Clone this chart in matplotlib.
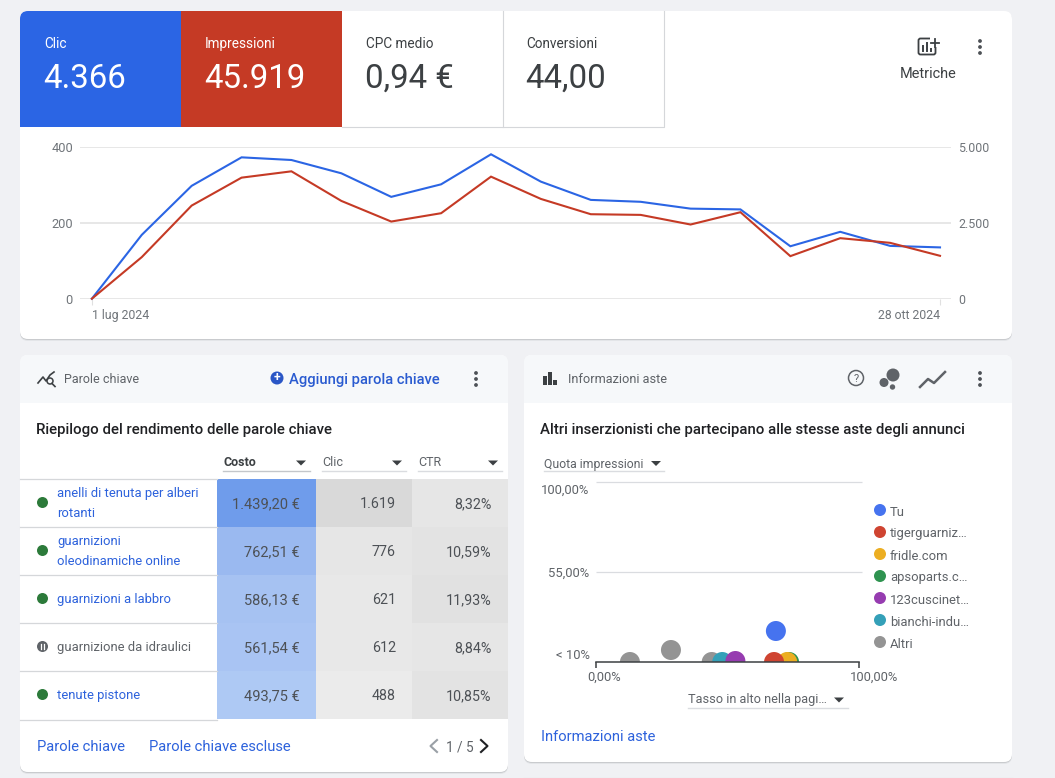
#!/usr/bin/env python3
"""Google Ads overview: clicks/impressions line chart, keyword table, auction insights bubbles."""
import matplotlib
matplotlib.use("Agg")
import matplotlib.pyplot as plt
import pandas as pd
from matplotlib.patches import Circle, FancyBboxPatch, Polygon, Rectangle
from matplotlib.transforms import ScaledTranslation

plt.rcParams["font.family"] = ["Roboto", "DejaVu Sans"]

W, H = 1055, 778
DARK = "#3c4043"
GREY = "#70757a"
LINK = "#2d62dc"
BLUE = "#2b65e4"
RED = "#c53a25"

# Line chart
dates = pd.date_range("2024-07-01", "2024-10-28", freq="7D")
clicks = [0, 168, 297, 372, 365, 330, 268, 301, 380, 308, 260, 255, 237, 235, 138, 176, 139, 135]
impressions = [0, 1368, 3063, 3982, 4190, 3217, 2538, 2812, 4015, 3282, 2779, 2757, 2440, 2845, 1400, 1991, 1838, 1411]
left_ticks = [0, 200, 400]
right_ticks = [0, 2500, 5000]
right_labels = ["0", "2.500", "5.000"]

# KPI tiles
tile_names = ["Clic", "Impressioni", "CPC medio", "Conversioni"]
tile_values = ["4.366", "45.919", "0,94 €", "44,00"]

# Keyword table
keywords = [
    "anelli di tenuta per alberi\nrotanti",
    "guarnizioni\noleodinamiche online",
    "guarnizioni a labbro",
    "guarnizione da idraulici",
    "tenute pistone",
]
keyword_paused = [False, False, False, True, False]
costs = ["1.439,20 €", "762,51 €", "586,13 €", "561,54 €", "493,75 €"]
table_clicks = ["1.619", "776", "621", "612", "488"]
ctrs = ["8,32%", "10,59%", "11,93%", "8,84%", "10,85%"]
cost_colors = ["#6f9ceb", "#9ab9f0", "#a6c2f2", "#a9c4f3", "#aec9f4"]
click_colors = ["#d9d9d9", "#e6e6e6", "#e8e8e8", "#e8e8e8", "#ebebeb"]
ctr_colors = ["#e6e6e6", "#e3e3e3", "#e1e1e1", "#e6e6e6", "#e3e3e3"]

# Auction insights bubbles, drawn in this order
bubble_x = [12.9, 28.5, 44, 73.4, 72.7, 67.7, 48, 53, 68.4]
bubble_y = [10, 16, 10, 10, 10, 10, 10, 10.5, 25.5]
bubble_colors = ["#949494", "#949494", "#949494", "#2f9350", "#ecae22", "#cf4431", "#34a0b8", "#963cb0", "#4673ef"]
legend_names = ["Tu", "tigerguarniz…", "fridle.com", "apsoparts.c…", "123cuscinet…", "bianchi-indu…", "Altri"]
legend_colors = ["#4673ef", "#cf4431", "#ecae22", "#2f9350", "#963cb0", "#34a0b8", "#949494"]


def px_axes(fig, x0, y0, x1, y1):
    # axes from pixel box, y measured from the top
    return fig.add_axes([x0 / W, 1 - y1 / H, (x1 - x0) / W, (y1 - y0) / H])


def pt(px):
    return px * 72 / 100


def label(ax, x, y, s, size=13, color=DARK, ha="left", va="center", **kw):
    ax.text(x, y, s, fontsize=pt(size), color=color, ha=ha, va=va, **kw)


def card(ax, x0, y0, x1, y1):
    for off, col in [(2, "#e3e5e8"), (1, "#c9cbce")]:
        ax.add_patch(FancyBboxPatch((x0, y0 + off), x1 - x0, y1 - y0, boxstyle="round,pad=0,rounding_size=8",
                                    fc=col, ec="none", zorder=1))
    patch = FancyBboxPatch((x0, y0), x1 - x0, y1 - y0, boxstyle="round,pad=0,rounding_size=8",
                           fc="white", ec="none", zorder=1)
    ax.add_patch(patch)
    return patch


def dots(ax, x, y):
    for dy in (-6, 0, 6):
        ax.add_patch(Circle((x, y + dy), 1.9, fc="#4d5156", ec="none", zorder=3))


def dropdown(ax, x0, x1, y, arrow_x, color="#dadce0"):
    ax.plot([x0, x1], [y, y], color=color, lw=1, zorder=3)
    ax.add_patch(Polygon([(arrow_x - 5, y - 10), (arrow_x + 5, y - 10), (arrow_x, y - 5)], fc=DARK, ec="none", zorder=3))


def draw_layout(ax):
    top = card(ax, 20, 11, 1012, 339)

    # KPI tiles
    tile_edges = [20, 181, 342, 502.5, 663.5]
    tile_fills = [BLUE, RED, "white", "white"]
    for i, name in enumerate(tile_names):
        x0, x1 = tile_edges[i], tile_edges[i + 1]
        ax.add_patch(Rectangle((x0, 11), x1 - x0, 116, fc=tile_fills[i], ec="none", zorder=2, clip_path=top))
        col = "white" if i < 2 else DARK
        label(ax, x0 + 24, 43.5, name, 13.6, col, zorder=4)
        label(ax, x0 + 23, 79, tile_values[i], 33, col, zorder=4)
    ax.plot([342, 663.5, 663.5], [127, 127, 11], color="#d5d7da", lw=0.8, zorder=3)
    ax.plot([502.5, 502.5], [11, 127], color="#d5d7da", lw=0.8, zorder=3)

    # metrics button
    ax.add_patch(FancyBboxPatch((918.5, 38.5), 17, 16, boxstyle="round,pad=0,rounding_size=2", fc="none", ec=DARK, lw=1.3, zorder=3))
    ax.add_patch(Rectangle((930, 37), 9, 10, fc="white", ec="none", zorder=3))
    ax.plot([935, 935], [39, 47], color=DARK, lw=1.3, zorder=4)
    ax.plot([931, 939], [43, 43], color=DARK, lw=1.3, zorder=4)
    for bx, by in [(923, 46), (927, 43), (931, 49)]:
        ax.plot([bx, bx], [by, 51], color=DARK, lw=1.4, zorder=4)
    label(ax, 928, 74, "Metriche", 14.5, DARK, ha="center")
    dots(ax, 980, 47)

    # keyword card
    left = card(ax, 20, 355, 508, 772)
    ax.add_patch(Rectangle((20, 355), 488, 48, fc="#f6f8fa", ec="none", zorder=2, clip_path=left))
    ax.plot([38, 43, 46, 50, 54], [383, 377, 381, 375, 372], color=DARK, lw=1.2, zorder=3)
    ax.add_patch(Circle((50, 381), 3, fc="#f6f8fa", ec=DARK, lw=1.1, zorder=4))
    ax.plot([52, 55], [383.5, 386.5], color=DARK, lw=1.2, zorder=4)
    label(ax, 64, 379.5, "Parole chiave", 12.5, "#5f6368", zorder=4)
    ax.add_patch(Circle((277, 378), 6.5, fc="#2a56c6", ec="none", zorder=3))
    label(ax, 277, 377.5, "+", 12, "white", ha="center", fontweight="bold", zorder=4)
    label(ax, 289, 380, "Aggiungi parola chiave", 14.7, "#2a5bd0", fontweight="medium", zorder=4)
    dots(ax, 476, 379)
    label(ax, 36, 430, "Riepilogo del rendimento delle parole chiave", 15, "#202124", fontweight="medium", zorder=4)

    label(ax, 223, 462.5, "Costo", 12.5, DARK, fontweight="bold", zorder=4)
    dropdown(ax, 223, 310, 470.5, 301, color="#c4c7cb")
    label(ax, 322, 462.5, "Clic", 12.5, "#5f6368", zorder=4)
    dropdown(ax, 322, 406, 470.5, 397)
    label(ax, 418, 462.5, "CTR", 12.5, "#5f6368", zorder=4)
    dropdown(ax, 418, 502, 470.5, 493)

    row_h = 48
    for i, kw in enumerate(keywords):
        y0 = 479 + i * row_h
        cy = y0 + row_h / 2
        ax.add_patch(Rectangle((217, y0), 99, row_h, fc=cost_colors[i], ec="none", zorder=2))
        ax.add_patch(Rectangle((316, y0), 96, row_h, fc=click_colors[i], ec="none", zorder=2))
        ax.add_patch(Rectangle((412, y0), 96, row_h, fc=ctr_colors[i], ec="none", zorder=2))
        ax.plot([20, 217], [y0, y0], color="#d5d7da", lw=0.9, zorder=3)
        if keyword_paused[i]:
            ax.add_patch(Circle((42.5, cy - 0.5), 5.5, fc="#5f6368", ec="none", zorder=3))
            ax.plot([41, 41], [cy - 3, cy + 2], color="white", lw=0.9, zorder=4)
            ax.plot([44, 44], [cy - 3, cy + 2], color="white", lw=0.9, zorder=4)
            txt_col = "#5f6368"
        else:
            ax.add_patch(Circle((42.5, cy - 0.5), 5.5, fc="#2c7a3a", ec="none", zorder=3))
            txt_col = LINK
        ax.text(57, cy + 0.5, kw, fontsize=pt(13), color=txt_col, ha="left", va="center", linespacing=1.65, zorder=4)
        label(ax, 300, cy + 1, costs[i], 14.6, "#4d5156", ha="right", zorder=4)
        label(ax, 396, cy + 1, table_clicks[i], 14.3, "#4d5156", ha="right", zorder=4)
        label(ax, 491.5, cy + 1, ctrs[i], 14.3, "#4d5156", ha="right", zorder=4)
    ax.plot([20, 217], [719.5, 719.5], color="#d5d7da", lw=0.9, zorder=3)

    label(ax, 37, 747, "Parole chiave", 14.8, LINK, zorder=4)
    label(ax, 149, 747, "Parole chiave escluse", 14.8, LINK, zorder=4)
    ax.plot([437, 430.5, 437], [740, 746, 752], color="#9aa0a6", lw=1.5, zorder=4)
    label(ax, 446, 747, "1 / 5", 13.5, "#5f6368", zorder=4)
    ax.plot([481, 487.5, 481], [740, 746, 752], color="#202124", lw=1.5, zorder=4)

    # auction insights card
    right = card(ax, 524, 355, 1012, 762)
    ax.add_patch(Rectangle((524, 355), 488, 48, fc="#f6f8fa", ec="none", zorder=2, clip_path=right))
    for bx, by, bh in [(543, 376, 9), (548, 372, 13), (553, 380, 5)]:
        ax.add_patch(Rectangle((bx, by + 0), 3.5, bh, fc=DARK, ec="none", zorder=3))
    label(ax, 568, 379.5, "Informazioni aste", 12.7, "#5f6368", zorder=4)
    ax.add_patch(Circle((856, 378), 7.5, fc="none", ec="#5f6368", lw=1.1, zorder=3))
    label(ax, 856, 378.5, "?", 11, "#5f6368", ha="center", zorder=4)
    for bx, by, br in [(893, 375, 6.5), (884, 382.5, 4.5), (892.5, 387, 2.7)]:
        ax.add_patch(Circle((bx, by), br, fc="#5f6368", ec="none", zorder=3))
    ax.plot([920, 928, 934, 945], [387, 379, 383, 372], color="#5f6368", lw=1.8, zorder=3)
    dots(ax, 980, 379)
    label(ax, 540, 430, "Altri inserzionisti che partecipano alle stesse aste degli annunci", 15, "#202124",
          fontweight="medium", zorder=4)
    label(ax, 544, 464, "Quota impressioni", 12.2, "#5f6368", zorder=4)
    dropdown(ax, 544, 664, 471, 656)
    label(ax, 688, 700, "Tasso in alto nella pagi…", 12.7, "#5f6368", zorder=4)
    dropdown(ax, 688, 848, 707.5, 839)
    for i, name in enumerate(legend_names):
        ax.add_patch(Circle((880, 510 + i * 22), 6, fc=legend_colors[i], ec="none", zorder=3))
        label(ax, 890, 512 + i * 22, name, 13, "#5f6368", zorder=4)
    label(ax, 541, 737, "Informazioni aste", 14.8, LINK, zorder=4)

    # edge of the next card below
    ax.plot([524, 1012], [777.5, 777.5], color="#e6e8ea", lw=1, zorder=1)


def draw_lines(fig):
    ax = px_axes(fig, 80, 146.7, 951, 298.7)
    ax.patch.set_alpha(0)
    ax.set_xlim(dates[0] - pd.Timedelta(hours=40), dates[-1] + pd.Timedelta(hours=37))
    ax.plot(dates, clicks, color=BLUE, lw=1.5, solid_joinstyle="miter", clip_on=False, zorder=3)
    ax.set_ylim(0, 400)
    ax.set_yticks(left_ticks)
    ax.set_xticks([dates[0], dates[-1]])
    ax.set_xticklabels(["1 lug 2024", "28 ott 2024"], fontsize=pt(12.3), color=GREY)
    ax.get_xticklabels()[0].set_ha("left")
    ax.get_xticklabels()[1].set_ha("right")
    ax.tick_params(axis="x", length=pt(6), width=0.8, color="#e0e0e0", pad=pt(4))
    ax.tick_params(axis="y", length=0, pad=pt(7), labelsize=pt(12.7), labelcolor=GREY)
    ax.grid(axis="y", color="#e0e0e0", lw=1.1)
    ax.set_axisbelow(True)
    for s in ax.spines.values():
        s.set_visible(False)

    ax2 = ax.twinx()
    ax2.patch.set_alpha(0)
    ax2.plot(dates, impressions, color=RED, lw=1.5, solid_joinstyle="miter", clip_on=False, zorder=3)
    ax2.set_ylim(0, 5000)
    ax2.set_yticks(right_ticks)
    ax2.set_yticklabels(right_labels)
    ax2.tick_params(axis="y", length=0, pad=pt(7), labelsize=pt(12.4), labelcolor=GREY)
    for s in ax2.spines.values():
        s.set_visible(False)


def draw_bubbles(fig):
    ax = px_axes(fig, 596, 482, 859, 662)
    ax.patch.set_alpha(0)
    ax.set_xlim(0, 100)
    ax.set_ylim(10, 100)
    ax.scatter(bubble_x, bubble_y, s=pt(20) ** 2, c=bubble_colors, linewidths=0, zorder=3)
    ax.hlines([55, 100], 0, 101, color="#dadce0", lw=0.9, clip_on=False, zorder=1)
    ax.set_yticks([10, 55, 100])
    ax.set_yticklabels(["< 10%", "55,00%", "100,00%"], fontsize=pt(13), color="#5f6368")
    ax.tick_params(axis="y", length=0, pad=pt(6.5))
    for lab, va, dy in zip(ax.get_yticklabels(), ["bottom", "center", "top"], [0, -1, -2]):
        lab.set_va(va)
        lab.set_transform(lab.get_transform() + ScaledTranslation(0, dy / 100, fig.dpi_scale_trans))
    ax.set_xticks([0, 100])
    ax.set_xticklabels(["0,00%", "100,00%"], fontsize=pt(13), color="#5f6368")
    ax.tick_params(axis="x", length=pt(6), width=1.1, color=DARK, pad=pt(3))
    for lab, dx in zip(ax.get_xticklabels(), [8, 15]):
        lab.set_transform(lab.get_transform() + ScaledTranslation(dx / 100, 0, fig.dpi_scale_trans))
    for name in ("top", "left", "right"):
        ax.spines[name].set_visible(False)
    ax.spines["bottom"].set_color(DARK)
    ax.spines["bottom"].set_linewidth(1.1)
    ax.spines["bottom"].set_zorder(5)


def main():
    fig = plt.figure(figsize=(W / 100, H / 100), dpi=100, facecolor="#f0f1f4")
    bg = fig.add_axes([0, 0, 1, 1])
    bg.set_xlim(0, W)
    bg.set_ylim(H, 0)
    bg.axis("off")
    draw_layout(bg)
    draw_lines(fig)
    draw_bubbles(fig)
    fig.savefig("out.png", dpi=100)
    plt.close(fig)


if __name__ == "__main__":
    main()
